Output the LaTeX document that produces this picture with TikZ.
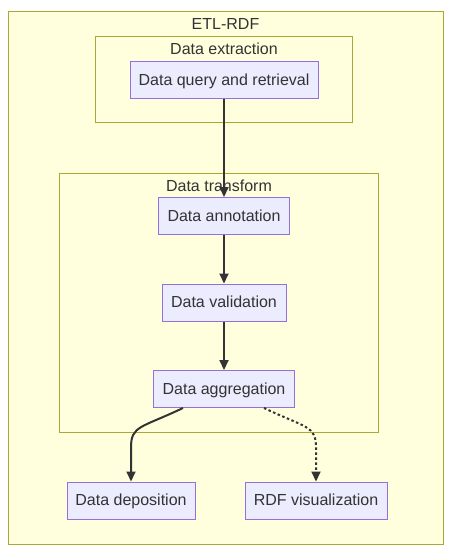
\documentclass[tikz,border=0pt]{standalone}
\usepackage{fontspec}
\setmainfont{Liberation Sans}
\usetikzlibrary{arrows.meta,calc}
\definecolor{clusterfill}{HTML}{FFFFDE}
\definecolor{clusterline}{HTML}{AAAA33}
\definecolor{nodefill}{HTML}{ECECFF}
\definecolor{nodeline}{HTML}{9370DB}
\definecolor{txt}{HTML}{333333}
\begin{document}
\begin{tikzpicture}[x=1pt,y=-1pt,
  cluster/.style={draw=clusterline,fill=clusterfill,line width=1pt},
  proc/.style={draw=nodeline,fill=nodefill,line width=1pt,text=txt,font=\fontsize{16}{19}\selectfont,minimum height=37pt,inner sep=0pt,text height=11.5pt,text depth=1.5pt},
  ctitle/.style={text=txt,font=\fontsize{16}{19}\selectfont,inner sep=0pt,text height=11.5pt,text depth=1.5pt},
  edge/.style={draw=txt,line width=2pt,-{Triangle[length=10pt,width=9pt]}},
  dotedge/.style={edge,dash pattern=on 2.5pt off 2.5pt}
]
\useasboundingbox (0,0) rectangle (459,556);
\fill[white] (0,0) rectangle (459,556);
\draw[cluster] (8,12) rectangle (443,544);
\node[ctitle] (t0) at (225.5,25) {ETL-RDF};
\draw[cluster] (95.5,37) rectangle (352.5,123);
\node[ctitle] (t1) at (224,50) {Data extraction};
\draw[cluster] (59.5,173) rectangle (378.5,432);
\node[ctitle] (t2) at (219,186) {Data transform};

\node[proc,minimum width=188pt] (q) at (224,80.5) {Data query and retrieval};
\node[proc,minimum width=131pt] (ann) at (224,216) {Data annotation};
\node[proc,minimum width=124pt] (val) at (224,302.5) {Data validation};
\node[proc,minimum width=141pt] (agg) at (224,389) {Data aggregation};
\node[proc,minimum width=128pt] (dep) at (131,500.5) {Data deposition};
\node[proc,minimum width=142pt] (rdf) at (316,500.5) {RDF visualization};

\draw[edge] (q.south) -- (ann.north);
\draw[edge] (ann.south) -- (val.north);
\draw[edge] (val.south) -- (agg.north);
\draw[edge] ($(agg.south west)+(30,0)$) .. controls +(-42,20) and +(0,-22) .. ($(dep.north)+(0,-34)$) -- (dep.north);
\draw[dotedge] ($(agg.south east)+(-31,0)$) .. controls +(42,20) and +(0,-22) .. ($(rdf.north)+(0,-34)$) -- (rdf.north);
\end{tikzpicture}
\end{document}
